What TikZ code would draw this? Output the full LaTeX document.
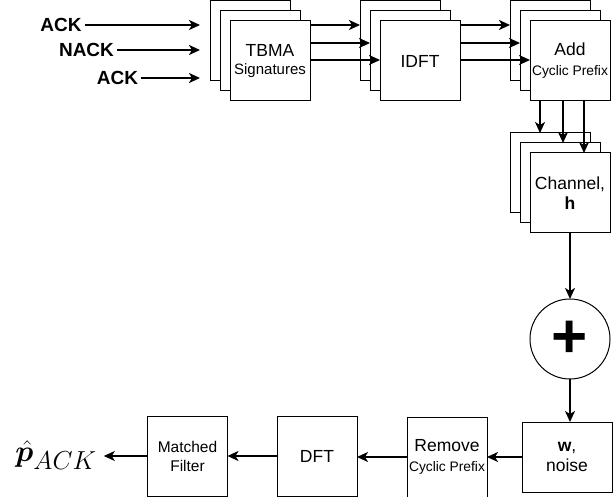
\documentclass[tikz,border=0pt]{standalone}
\usepackage{fix-cm}
\usepackage{amsmath,bm}
\usepackage{fontspec}
\setmainfont{Liberation Sans}
\usetikzlibrary{arrows.meta}
\newcommand\fmain{\fontsize{17.5}{20}\selectfont}
\newcommand\fsmall{\fontsize{15}{18}\selectfont}
\newcommand\fcp{\fontsize{13.8}{16}\selectfont}
\begin{document}
\begin{tikzpicture}[x=1pt,y=-1pt,
  blk/.style={draw, fill=white, line width=1pt, minimum width=80pt, minimum height=80pt,
    inner sep=1pt, outer sep=0pt, align=center, font=\fmain},
  arr/.style={-{Stealth[length=11pt,width=10pt,inset=3pt]}, line width=1.8pt},
  lbl/.style={font=\fontsize{19}{21}\selectfont\bfseries, inner sep=3pt}]
\useasboundingbox (0,0) rectangle (613,497);
% helper coordinates
\coordinate (r1) at (0,25);
\coordinate (r2) at (0,43);
\coordinate (r3) at (0,60);
\coordinate (c1) at (540,0);
\coordinate (c2) at (563,0);
\coordinate (c3) at (584,0);
% TBMA stack
\node[blk] (tb1) at (250,41) {};
\node[blk] (tb2) at (260,51) {};
\node[blk] (tb) at (270,61) {\raisebox{-2pt}{TBMA}\\{\fsmall Signatures}};
% IDFT stack
\node[blk] (id1) at (400,41) {};
\node[blk] (id2) at (410,51) {};
\node[blk] (id) at (420,61) {IDFT};
% Add CP stack
\node[blk] (ad1) at (550,41) {};
\node[blk] (ad2) at (560,51) {};
\node[blk] (ad) at (570,61) {Add\\{\fcp Cyclic Prefix}};
% Channel stack
\node[blk] (ch1) at (550,173) {};
\node[blk] (ch2) at (560,183) {};
\node[blk] (ch) at (570,193) {Channel,\\\textbf{h}};
% adder
\node[draw, circle, line width=1pt, minimum size=80pt, inner sep=0pt, outer sep=0pt,
  font=\fontsize{62}{62}\selectfont\bfseries] (plus) at (570,339) {\raisebox{-5pt}{+}};
% bottom row
\node[blk, minimum width=90pt, minimum height=70pt] (w) at (567,457) {\textbf{w},\\noise};
\node[blk] (rm) at (447,457) {Remove\\{\fcp Cyclic Prefix}};
\node[blk] (dft) at (317,456) {DFT};
\node[blk, font=\fontsize{15.5}{19}\selectfont] (mf) at (187.5,456) {Matched\\Filter};
\node[font=\fontsize{30}{36}\selectfont, inner xsep=7pt, inner ysep=0pt] (p) at (56,455)
  {$\hat{\bm{p}}_{\mbox{\fontsize{26}{28}\selectfont$ACK$}}$};
% input labels
\node[lbl] (a1) at (61,25) {ACK};
\node[lbl] (a2) at (86.5,50) {NACK};
\node[lbl] (a3) at (117.5,78) {ACK};
% arrows in
\draw[arr, shorten >=10pt] (a1.east) -- (tb1.west |- a1);
\draw[arr, shorten >=10pt] (a2.east) -- (tb1.west |- a2);
\draw[arr, shorten >=10pt] (a3.east) -- (tb1.west |- a3);
% TBMA -> IDFT
\draw[arr] (tb.east |- r1) -- (id1.west |- r1);
\draw[arr] (tb.east |- r2) -- (id2.west |- r2);
\draw[arr] (tb.east |- r3) -- (id.west |- r3);
% IDFT -> Add
\draw[arr] (id.east |- r1) -- (ad1.west |- r1);
\draw[arr] (id.east |- r2) -- (ad2.west |- r2);
\draw[arr] (id.east |- r3) -- (ad.west |- r3);
% Add -> Channel
\draw[arr] (c1 |- ad.south) -- (c1 |- ch1.north);
\draw[arr] (c2 |- ad.south) -- (c2 |- ch2.north);
\draw[arr] (c3 |- ad.south) -- (c3 |- ch.north);
% Channel -> adder -> noise
\draw[arr] (ch.south) -- (plus.north);
\draw[arr] (plus.south) -- (plus.south |- w.north);
% bottom row
\draw[arr] (w.west) -- (rm.east);
\draw[arr] (rm.west) -- (dft.east |- rm.west);
\draw[arr] (dft.west) -- (mf.east);
\draw[arr] (mf.west) -- (p.east |- mf.west);
\end{tikzpicture}
\end{document}
